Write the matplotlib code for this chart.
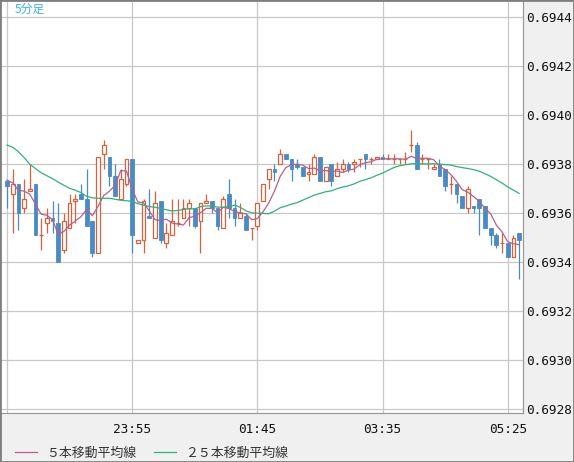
import numpy as np
import pandas as pd
import matplotlib
matplotlib.use('Agg')
import matplotlib.pyplot as plt
from matplotlib.patches import Rectangle

# 5-minute bars, 22:05 .. 05:35
opens = [0.69373, 0.69368, 0.69372, 0.69362, 0.69369, 0.69372, 0.69351, 0.69356, 0.69358, 0.69356,
         0.69345, 0.69354, 0.69365, 0.69368, 0.69366, 0.69357, 0.69344, 0.69384, 0.69383, 0.69375,
         0.69366, 0.69372, 0.69382, 0.69348, 0.69349, 0.69359, 0.69350, 0.69365, 0.69348, 0.69351,
         0.69356, 0.69358, 0.69362, 0.69362, 0.69357, 0.69364, 0.69365, 0.69362, 0.69354, 0.69368,
         0.69362, 0.69358, 0.69359, 0.69354, 0.69355, 0.69365, 0.69374, 0.69378, 0.69380, 0.69384,
         0.69382, 0.69380, 0.69379, 0.69376, 0.69376, 0.69383, 0.69373, 0.69380, 0.69375, 0.69378,
         0.69380, 0.69380, 0.69382, 0.69384, 0.69382, 0.69382, 0.69383, 0.69382, 0.69382, 0.69382,
         0.69382, 0.69388, 0.69388, 0.69382, 0.69382, 0.69378, 0.69380, 0.69378, 0.69372, 0.69372,
         0.69367, 0.69362, 0.69363, 0.69366, 0.69363, 0.69354, 0.69351, 0.69348, 0.69348, 0.69342,
         0.69352]
highs = [0.69373, 0.69378, 0.69372, 0.69374, 0.69380, 0.69372, 0.69358, 0.69362, 0.69365, 0.69364,
         0.69360, 0.69368, 0.69368, 0.69372, 0.69378, 0.69357, 0.69383, 0.69390, 0.69383, 0.69380,
         0.69378, 0.69382, 0.69382, 0.69349, 0.69366, 0.69370, 0.69369, 0.69365, 0.69356, 0.69366,
         0.69366, 0.69366, 0.69366, 0.69362, 0.69364, 0.69368, 0.69365, 0.69362, 0.69367, 0.69374,
         0.69366, 0.69364, 0.69360, 0.69354, 0.69364, 0.69372, 0.69378, 0.69380, 0.69386, 0.69384,
         0.69382, 0.69382, 0.69379, 0.69380, 0.69384, 0.69383, 0.69379, 0.69380, 0.69381, 0.69382,
         0.69381, 0.69382, 0.69382, 0.69384, 0.69383, 0.69383, 0.69384, 0.69384, 0.69384, 0.69382,
         0.69385, 0.69394, 0.69389, 0.69384, 0.69382, 0.69380, 0.69382, 0.69378, 0.69375, 0.69372,
         0.69367, 0.69371, 0.69363, 0.69366, 0.69363, 0.69354, 0.69352, 0.69352, 0.69348, 0.69351,
         0.69352]
lows = [0.69362, 0.69352, 0.69353, 0.69360, 0.69369, 0.69351, 0.69345, 0.69352, 0.69352, 0.69340,
        0.69344, 0.69354, 0.69356, 0.69366, 0.69355, 0.69342, 0.69344, 0.69378, 0.69371, 0.69367,
        0.69366, 0.69371, 0.69344, 0.69348, 0.69344, 0.69358, 0.69350, 0.69348, 0.69346, 0.69351,
        0.69355, 0.69358, 0.69355, 0.69354, 0.69344, 0.69364, 0.69360, 0.69353, 0.69354, 0.69358,
        0.69355, 0.69358, 0.69353, 0.69349, 0.69353, 0.69365, 0.69370, 0.69373, 0.69380, 0.69382,
        0.69373, 0.69378, 0.69375, 0.69373, 0.69376, 0.69373, 0.69373, 0.69371, 0.69375, 0.69377,
        0.69377, 0.69377, 0.69379, 0.69378, 0.69380, 0.69382, 0.69382, 0.69382, 0.69380, 0.69380,
        0.69380, 0.69385, 0.69378, 0.69380, 0.69378, 0.69378, 0.69375, 0.69369, 0.69368, 0.69364,
        0.69362, 0.69360, 0.69360, 0.69351, 0.69354, 0.69347, 0.69346, 0.69344, 0.69342, 0.69342,
        0.69333]
closes = [0.69371, 0.69372, 0.69360, 0.69366, 0.69370, 0.69351, 0.69351, 0.69358, 0.69357, 0.69340,
          0.69357, 0.69364, 0.69366, 0.69366, 0.69355, 0.69344, 0.69383, 0.69388, 0.69375, 0.69367,
          0.69374, 0.69382, 0.69351, 0.69349, 0.69365, 0.69358, 0.69364, 0.69349, 0.69352, 0.69357,
          0.69356, 0.69362, 0.69364, 0.69355, 0.69364, 0.69365, 0.69362, 0.69355, 0.69366, 0.69362,
          0.69358, 0.69360, 0.69353, 0.69354, 0.69364, 0.69372, 0.69378, 0.69377, 0.69384, 0.69382,
          0.69378, 0.69379, 0.69375, 0.69377, 0.69383, 0.69373, 0.69379, 0.69373, 0.69378, 0.69380,
          0.69378, 0.69381, 0.69382, 0.69382, 0.69382, 0.69383, 0.69382, 0.69382, 0.69382, 0.69382,
          0.69382, 0.69388, 0.69378, 0.69382, 0.69382, 0.69379, 0.69375, 0.69371, 0.69372, 0.69368,
          0.69362, 0.69370, 0.69362, 0.69362, 0.69354, 0.69351, 0.69347, 0.69348, 0.69342, 0.69350,
          0.69349]

# moving average values at the left edge (their windows reach bars before the view)
ma5_head = [0.693735, 0.693724, 0.693694, 0.693690]
ma25_head = [0.693878, 0.693869, 0.693851, 0.693827, 0.693800, 0.693782, 0.693765, 0.693753,
             0.693741, 0.693727, 0.693714, 0.693702, 0.693694, 0.693684, 0.693669, 0.693663,
             0.693661, 0.693661, 0.693661, 0.693657, 0.693653, 0.693651, 0.693649, 0.693639]

y_ticks = [0.6928, 0.6930, 0.6932, 0.6934, 0.6936, 0.6938, 0.6940, 0.6942, 0.6944]
x_ticks = [0, 22, 44, 66, 88]
x_labels = ['', '23:55', '01:45', '03:35', '05:25']

up_col = '#d9603b'
down_col = '#4b8bc4'
ma5_col = '#b85f8e'
ma25_col = '#2fb27a'

W, H = 574, 462
fig = plt.figure(figsize=(W / 100, H / 100), dpi=100, facecolor='#f0f0f0')
ax = fig.add_axes([0, (H - 413) / H, 523 / W, 413 / H])
ax.set_facecolor('white')

xs = np.arange(len(closes))
bw = 0.66
for i in xs:
    o, h, l, c = opens[i], highs[i], lows[i], closes[i]
    if c > o:
        ax.vlines(i, l, h, color=up_col, lw=0.9, zorder=2)
        ax.add_patch(Rectangle((i - bw / 2, o), bw, c - o, facecolor='white',
                               edgecolor=up_col, lw=0.9, zorder=3))
    elif c < o:
        ax.vlines(i, l, h, color=down_col, lw=0.9, zorder=2)
        ax.add_patch(Rectangle((i - bw / 2, c), bw, o - c, facecolor=down_col,
                               edgecolor=down_col, lw=0.6, zorder=3))
    else:
        ax.vlines(i, l, h, color=up_col, lw=0.9, zorder=2)
        ax.hlines(c, i - bw / 2, i + bw / 2, color=up_col, lw=0.9, zorder=3)

cs = pd.Series(closes)
ma5 = cs.rolling(5).mean().values
ma5[:4] = ma5_head
ma25 = cs.rolling(25).mean().values
ma25[:24] = ma25_head

l5, = ax.plot(xs, ma5, color=ma5_col, lw=0.9, zorder=4, label='５本移動平均線')
l25, = ax.plot(xs, ma25, color=ma25_col, lw=0.9, zorder=4, label='２５本移動平均線')

px = 5.69
ax.set_xlim(-7 / px, (523 - 7) / px)
ppv = 49.06 / 0.0002
ax.set_ylim(0.6928 - 3.5 / ppv, 0.6944 + 17 / ppv)

ax.set_yticks(y_ticks)
ax.set_yticklabels(['%.4f' % v for v in y_ticks])
ax.set_xticks(x_ticks)
ax.set_xticklabels(x_labels)
ax.yaxis.tick_right()
ax.grid(True, color='#c8c8c8', lw=0.9, zorder=0)
ax.set_axisbelow(True)
ax.tick_params(axis='y', length=0, pad=2.5, labelsize=9.2, labelcolor='#111111')
ax.tick_params(axis='x', length=0, pad=7, labelsize=9.2, labelcolor='#111111')
for lab in ax.get_xticklabels() + ax.get_yticklabels():
    lab.set_fontfamily('DejaVu Sans Mono')

for s in ['top', 'left']:
    ax.spines[s].set_visible(False)
for s in ['right', 'bottom']:
    ax.spines[s].set_color('#9a9a9a')
    ax.spines[s].set_linewidth(0.9)

ax.text(15 / 523, 1 - 9 / 413, '5分足', transform=ax.transAxes, ha='left', va='center',
        color='#35b5ee', fontsize=8.5, family=['Noto Sans CJK JP', 'DejaVu Sans'])

fig.legend(handles=[l5, l25], loc='center left', bbox_to_anchor=(15 / W, 1 - 453 / H),
           ncol=2, frameon=False, prop={'family': ['Noto Sans CJK JP'], 'size': 9.3},
           labelcolor='#333333', handlelength=1.7, handletextpad=0.7, columnspacing=1.4,
           borderpad=0, borderaxespad=0)

fig.add_artist(Rectangle((0, 0), 1, 1, transform=fig.transFigure, fill=False,
                         edgecolor='#7f7f7f', lw=2))

fig.savefig('out.png', dpi=100, facecolor=fig.get_facecolor())
